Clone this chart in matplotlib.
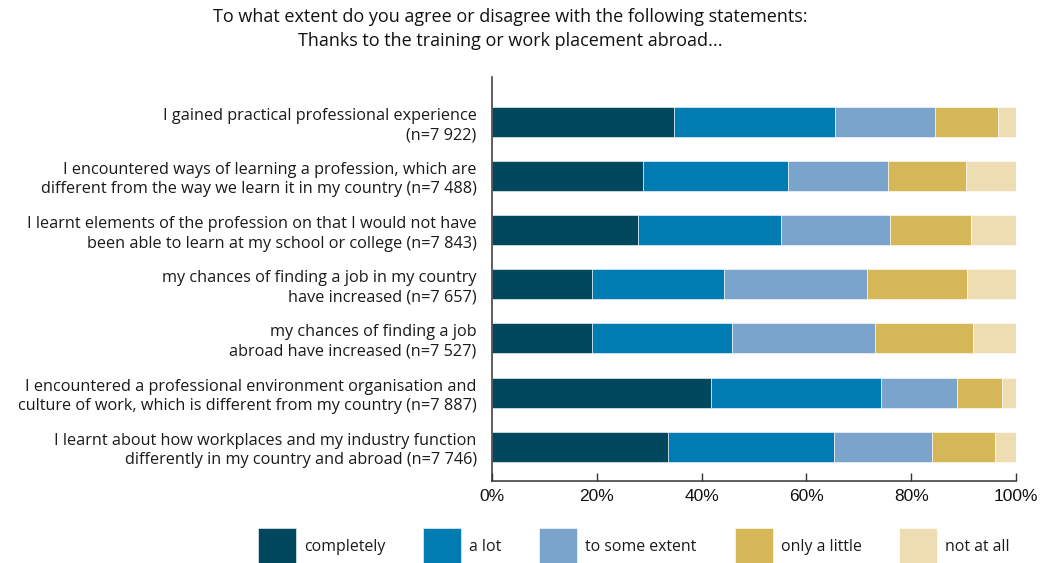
import matplotlib
matplotlib.use("Agg")
import matplotlib.pyplot as plt
import numpy as np

categories = [
    "I gained practical professional experience\n(n=7 922)",
    "I encountered ways of learning a profession, which are\ndifferent from the way we learn it in my country (n=7 488)",
    "I learnt elements of the profession on that I would not have\nbeen able to learn at my school or college (n=7 843)",
    "my chances of finding a job in my country\nhave increased (n=7 657)",
    "my chances of finding a job\nabroad have increased (n=7 527)",
    "I encountered a professional environment organisation and\nculture of work, which is different from my country (n=7 887)",
    "I learnt about how workplaces and my industry function\ndifferently in my country and abroad (n=7 746)",
]

series_names = ["completely", "a lot", "to some extent", "only a little", "not at all"]

completely = [34.8, 28.9, 27.9, 19.0, 19.1, 41.8, 33.5]
a_lot = [30.7, 27.6, 27.2, 25.2, 26.7, 32.5, 31.7]
to_some_extent = [19.1, 19.1, 20.9, 27.3, 27.3, 14.5, 18.8]
only_a_little = [12.0, 14.9, 15.4, 19.1, 18.7, 8.6, 12.0]
not_at_all = [3.4, 9.5, 8.6, 9.4, 8.2, 2.6, 4.0]

tick_values = [0, 20, 40, 60, 80, 100]
tick_labels = ["0%", "20%", "40%", "60%", "80%", "100%"]

colors = ["#01475E", "#017CB3", "#7AA4CC", "#D5B757", "#EEDDB3"]

text_font = ["Open Sans", "DejaVu Sans"]
tick_font = ["Liberation Sans", "DejaVu Sans"]

fig = plt.figure(figsize=(10.43, 5.63), dpi=100)
ax = fig.add_axes([492 / 1043, 1 - 481 / 563, 524 / 1043, (481 - 77) / 563])

y = np.arange(len(categories))
left = np.zeros(len(categories))
handles = []
for name, vals, col in zip(series_names,
                           [completely, a_lot, to_some_extent, only_a_little, not_at_all],
                           colors):
    vals = np.array(vals)
    b = ax.barh(y, vals, left=left, height=0.553, color=col, label=name,
                edgecolor="white", linewidth=0.4)
    handles.append(b)
    left = left + vals

ax.set_xlim(0, 100)
ax.set_ylim(6.633, -0.825)
ax.set_yticks(y)
ax.set_yticklabels(categories, fontsize=11.7, family=text_font, color="#1a1a1a",
                   linespacing=1.3)
ax.tick_params(axis="y", length=0, pad=11)
ax.set_xticks(tick_values)
ax.set_xticklabels(tick_labels, fontsize=12.5, family=tick_font, color="#111111")
ax.tick_params(axis="x", direction="in", length=6, width=1, color="#333333", pad=6)

for side in ["top", "right"]:
    ax.spines[side].set_visible(False)
for side in ["left", "bottom"]:
    ax.spines[side].set_color("#333333")
    ax.spines[side].set_linewidth(1.1)

fig.text(510 / 1043, 1 - 29 / 563,
         "To what extent do you agree or disagree with the following statements:\n"
         "Thanks to the training or work placement abroad...",
         ha="center", va="center", fontsize=13, family=text_font,
         color="#111111", linespacing=1.45)

leg = fig.legend(handles=handles, labels=series_names, loc="upper left",
                 bbox_to_anchor=(258 / 1043, 1 - 528 / 563), ncol=5,
                 frameon=False, prop={"family": text_font, "size": 11.4},
                 handlelength=2.4, handleheight=3.2, handletextpad=0.5,
                 columnspacing=2.4, borderpad=0, borderaxespad=0)
for t in leg.get_texts():
    t.set_color("#1a1a1a")

fig.savefig("out.png", dpi=100, facecolor="white")
